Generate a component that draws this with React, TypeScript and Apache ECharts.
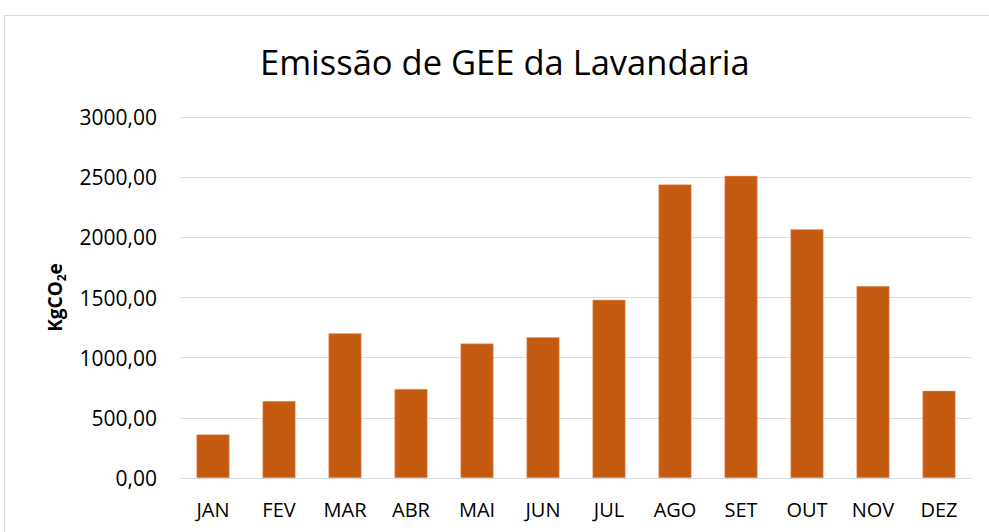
import React, { useEffect, useRef } from "react";
import * as echarts from "echarts";

const months = ["JAN", "FEV", "MAR", "ABR", "MAI", "JUN", "JUL", "AGO", "SET", "OUT", "NOV", "DEZ"];
const emissions = [362, 639, 1203, 739, 1117, 1170, 1481, 2439, 2511, 2067, 1595, 725];
const titleText = "Emissão de GEE da Lavandaria";

export default function App() {
  const ref = useRef<HTMLDivElement>(null);
  useEffect(() => {
    if (!ref.current) return;
    const chart = echarts.init(ref.current, undefined, { renderer: "svg" });
    const font = "'Open Sans', sans-serif";
    chart.setOption({
      animation: false,
      backgroundColor: "#ffffff",
      textStyle: { fontFamily: font },
      title: {
        text: titleText,
        left: 255,
        top: 39,
        textStyle: { fontFamily: font, fontSize: 34.5, fontWeight: "normal", color: "#000000" },
      },
      graphic: [
        {
          type: "rect",
          shape: { x: 4.5, y: 15.5, width: 1100, height: 700 },
          style: { fill: "none", stroke: "#d9d9d9", lineWidth: 1 },
          silent: true,
        },
      ],
      grid: { left: 180, right: 17, top: 117, bottom: 54 },
      xAxis: {
        type: "category",
        data: months,
        axisLine: { lineStyle: { color: "#d9dce1", width: 1 } },
        axisTick: { show: false },
        axisLabel: { fontFamily: font, fontSize: 20, color: "#000000", margin: 21 },
      },
      yAxis: {
        type: "value",
        min: 0,
        max: 3000,
        interval: 500,
        name: "{a|KgCO}{b|2}{a|e}",
        nameLocation: "middle",
        nameRotate: 90,
        nameGap: 113,
        nameTextStyle: {
          rich: {
            a: { fontFamily: font, fontSize: 19, fontWeight: "bold", color: "#000000", lineHeight: 24 },
            b: { fontFamily: font, fontSize: 12, fontWeight: "bold", color: "#000000", verticalAlign: "bottom", lineHeight: 24 },
          },
        },
        axisLine: { show: false },
        axisTick: { show: false },
        splitLine: { lineStyle: { color: "#d9dce1", width: 1 } },
        axisLabel: {
          fontFamily: font,
          fontSize: 21,
          color: "#000000",
          margin: 23,
          formatter: (v: number) => v.toFixed(2).replace(".", ","),
        },
      },
      series: [
        {
          type: "bar",
          data: emissions,
          barWidth: "50%",
          itemStyle: { color: "#C55A11", borderColor: "#E9A77A", borderWidth: 0.5 },
        },
      ],
    });
    return () => chart.dispose();
  }, []);
  return (
    <div
      ref={ref}
      style={{ position: "fixed", left: 0, top: 0, width: 989, height: 532 }}
    />
  );
}
